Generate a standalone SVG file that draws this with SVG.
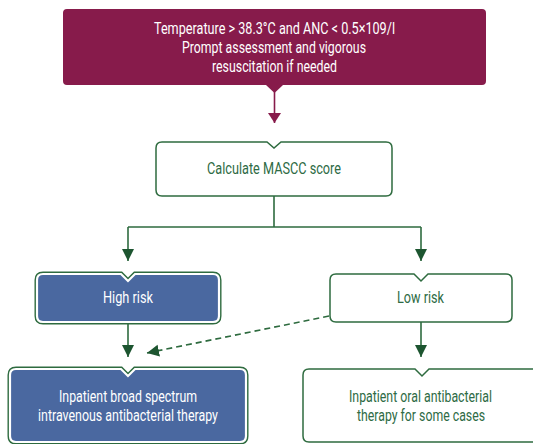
<svg xmlns="http://www.w3.org/2000/svg" xmlns:xlink="http://www.w3.org/1999/xlink" width="533" height="444" viewBox="0 0 533 444">
<style>
text{font-family:Roboto,"Liberation Sans",sans-serif;font-size:16.5px;font-weight:400;text-anchor:middle;}
.wt{fill:#ffffff;}
.gt{fill:#2E6B45;}
.wbox{fill:#ffffff;stroke:#2E6B3F;stroke-width:1.5;}
.bout{fill:none;stroke:#2E6B3F;stroke-width:5;}
.bin{fill:#4A68A0;stroke:#ffffff;stroke-width:2.2;}
.ln{fill:none;stroke:#2E6B3F;stroke-width:1.6;}
.dash{stroke-dasharray:6 4;}
</style>
<defs>
<marker id="ag" markerUnits="userSpaceOnUse" markerWidth="14" markerHeight="14" viewBox="0 0 14 14" refX="12" refY="7" orient="auto">
<path d="M0,1 L12,7 L0,13 Z" fill="#1D5530"/>
</marker>
<marker id="am" markerUnits="userSpaceOnUse" markerWidth="14" markerHeight="14" viewBox="0 0 14 14" refX="10" refY="7" orient="auto">
<path d="M0,0.5 L10,7 L0,13.5 Z" fill="#871B4B"/>
</marker>
</defs>

<g id="connectors">
<path class="ln" d="M274.5,92 V123" style="stroke:#871B4B" marker-end="url(#am)"/>
<path class="ln" d="M274,196 V227 M128,227 H421"/>
<path class="ln" d="M128,227 V261" marker-end="url(#ag)"/>
<path class="ln" d="M421,227 V261" marker-end="url(#ag)"/>
<path class="ln" d="M128,322 V357" marker-end="url(#ag)"/>
<path class="ln" d="M421,322 V357" marker-end="url(#ag)"/>
<path class="ln dash" d="M329,316 L147,353" marker-end="url(#ag)"/>
</g>

<g id="node-start">
<path d="M67,9 H482 Q486,9 486,13 V81 Q486,85 482,85 H283 L274.5,93 L266,85 H67 Q63,85 63,81 V13 Q63,9 67,9 Z" fill="#871B4B"/>
<text class="wt" x="274.5" y="33.5" textLength="241" lengthAdjust="spacingAndGlyphs">Temperature &gt; 38.3°C and ANC &lt; 0.5×109/l</text>
<text class="wt" x="274" y="52.5" textLength="184" lengthAdjust="spacingAndGlyphs">Prompt assessment and vigorous</text>
<text class="wt" x="274.5" y="71.5" textLength="125" lengthAdjust="spacingAndGlyphs">resuscitation if needed</text>
</g>

<g id="node-mascc">
<path class="wbox" d="M162,142 H267 L274,148 L281,142 H386 Q392,142 392,148 V190 Q392,196 386,196 H162 Q156,196 156,190 V148 Q156,142 162,142 Z"/>
<text class="gt" x="274" y="174" textLength="134" lengthAdjust="spacingAndGlyphs">Calculate MASCC score</text>
</g>

<g id="node-high">
<path class="bout" d="M43,274 H121 L128,281 L135,274 H213 Q219,274 219,280 V316 Q219,322 213,322 H43 Q37,322 37,316 V280 Q37,274 43,274 Z"/>
<path class="bin" d="M43,274 H121 L128,281 L135,274 H213 Q219,274 219,280 V316 Q219,322 213,322 H43 Q37,322 37,316 V280 Q37,274 43,274 Z"/>
<text class="wt" x="128" y="303" textLength="50" lengthAdjust="spacingAndGlyphs">High risk</text>
</g>

<g id="node-low">
<path class="wbox" d="M336,274 H414 L421,281 L428,274 H506 Q512,274 512,280 V316 Q512,322 506,322 H336 Q330,322 330,316 V280 Q330,274 336,274 Z"/>
<text class="gt" x="420.5" y="303" textLength="47" lengthAdjust="spacingAndGlyphs">Low risk</text>
</g>

<g id="node-iv">
<path class="bout" d="M16,369 H121 L128,376 L135,369 H240 Q246,369 246,375 V436 Q246,442 240,442 H16 Q10,442 10,436 V375 Q10,369 16,369 Z"/>
<path class="bin" d="M16,369 H121 L128,376 L135,369 H240 Q246,369 246,375 V436 Q246,442 240,442 H16 Q10,442 10,436 V375 Q10,369 16,369 Z"/>
<text class="wt" x="128" y="402" textLength="138" lengthAdjust="spacingAndGlyphs">Inpatient broad spectrum</text>
<text class="wt" x="128" y="421" textLength="180" lengthAdjust="spacingAndGlyphs">intravenous antibacterial therapy</text>
</g>

<g id="node-oral">
<path class="wbox" d="M309,369 H415 L422,376 L429,369 H534 Q540,369 540,375 V436 Q540,442 534,442 H309 Q303,442 303,436 V375 Q303,369 309,369 Z"/>
<text class="gt" x="420.5" y="402" textLength="143" lengthAdjust="spacingAndGlyphs">Inpatient oral antibacterial</text>
<text class="gt" x="421" y="421" textLength="128" lengthAdjust="spacingAndGlyphs">therapy for some cases</text>
</g>
</svg>
